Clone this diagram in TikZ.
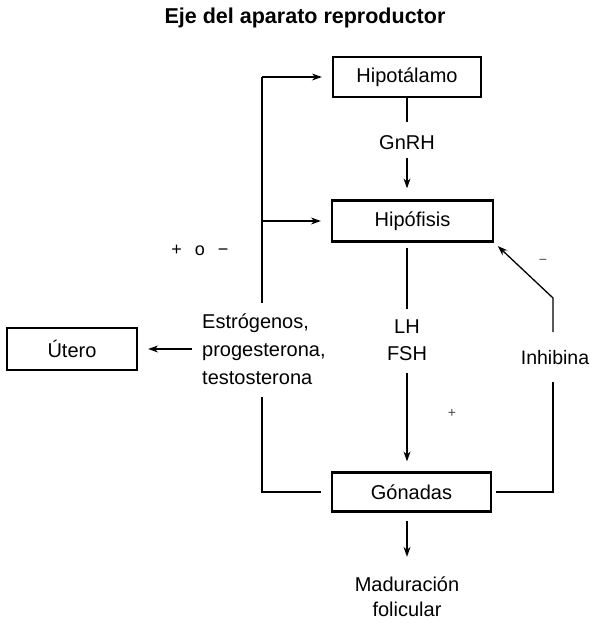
\documentclass[tikz,border=0pt]{standalone}
\usepackage{fontspec}
\setmainfont{Liberation Sans}
\usetikzlibrary{arrows.meta}
\begin{document}
\begin{tikzpicture}[x=1pt,y=-1pt,
  box/.style={draw, line width=2.2pt, inner sep=0pt, font=\fontsize{20}{24}\selectfont},
  lbl/.style={inner sep=0pt, font=\fontsize{20}{27}\selectfont},
  small/.style={inner sep=0pt, font=\fontsize{14}{16}\selectfont, text=black!70},
  wire/.style={line width=1.3pt},
  conn/.style={line width=1.3pt, -{Stealth[length=10pt,width=7pt]}}]
\useasboundingbox (0,0) rectangle (600,638);

% title
\node[inner sep=0pt, font=\bfseries\fontsize{21.5}{25}\selectfont] (title) at (305,18) {Eje del aparato reproductor};

% boxes
\node[box, minimum width=148pt, minimum height=40pt] (hipot) at (407,77) {Hipotálamo};
\node[box, minimum width=161pt, minimum height=41pt] (hipof) at (412.5,221) {Hipófisis};
\node[box, minimum width=159pt, minimum height=39pt] (gonad) at (411.5,492) {Gónadas};
\node[box, minimum width=130pt, minimum height=42pt] (utero) at (72,349) {Útero};

% labels
\node[lbl] (gnrh) at (407,143) {GnRH};
\node[lbl, align=center] (lhfsh) at (407,340) {LH\\FSH};
\node[lbl, align=left, anchor=west, font=\fontsize{20}{28}\selectfont] (horm) at (202,349) {Estrógenos,\\progesterona,\\testosterona};
\node[lbl, font=\fontsize{19.5}{24}\selectfont] (inh) at (555,358) {Inhibina};
\node[lbl, align=center, font=\fontsize{20}{25}\selectfont] (mad) at (407,597) {Maduración\\folicular};
\node[lbl, font=\fontsize{18}{20}\selectfont] (signs) at (200,250) {+\hspace{13pt}o\hspace{13pt}−};
\node[small] (minus) at (543,262) {−};
\node[small] (plus) at (452,413) {+};

% coordinates
\coordinate (ltop) at (262,77);
\coordinate (lmid) at (262,221);
\coordinate (lup) at (262,303);
\coordinate (ldn) at (262,397);
\coordinate (lbot) at (262,492);
\coordinate (uttail) at (192,349);
\coordinate (rbend) at (553,298);
\coordinate (rup) at (553,332);
\coordinate (rdn) at (553,382);
\coordinate (rbot) at (553,492);

% main axis
\draw[wire, shorten >=14pt] (hipot.south) -- (gnrh.north);
\draw[conn, shorten <=8pt, shorten >=11pt] (gnrh.south) -- (gnrh.south |- hipof.north);
\draw[wire, shorten <=5pt, shorten >=10pt] (hipof.south -| lhfsh) -- (lhfsh.north);
\draw[conn, shorten <=12pt, shorten >=10pt] (lhfsh.south) -- (lhfsh.south |- gonad.north);
\draw[conn, shorten <=8pt, shorten >=20pt] (gonad.south -| mad) -- (mad.north);

% left feedback
\draw[conn, shorten >=10pt] (ltop) -- (ltop -| hipot.west);
\draw[conn, shorten >=10pt] (lmid) -- (lmid -| hipof.west);
\draw[wire] (ltop) -- (lup);
\draw[wire, shorten >=10pt] (ldn) -- (lbot) -- (lbot -| gonad.west);
\draw[conn, shorten >=10pt] (uttail) -- (uttail -| utero.east);

% inhibina feedback
\draw[wire, shorten <=4pt] (rbot -| gonad.east) -- (rbot) -- (rdn);
\draw[conn, shorten >=5pt] (rup) -- (rbend) -- (hipof.south east);
\end{tikzpicture}
\end{document}
